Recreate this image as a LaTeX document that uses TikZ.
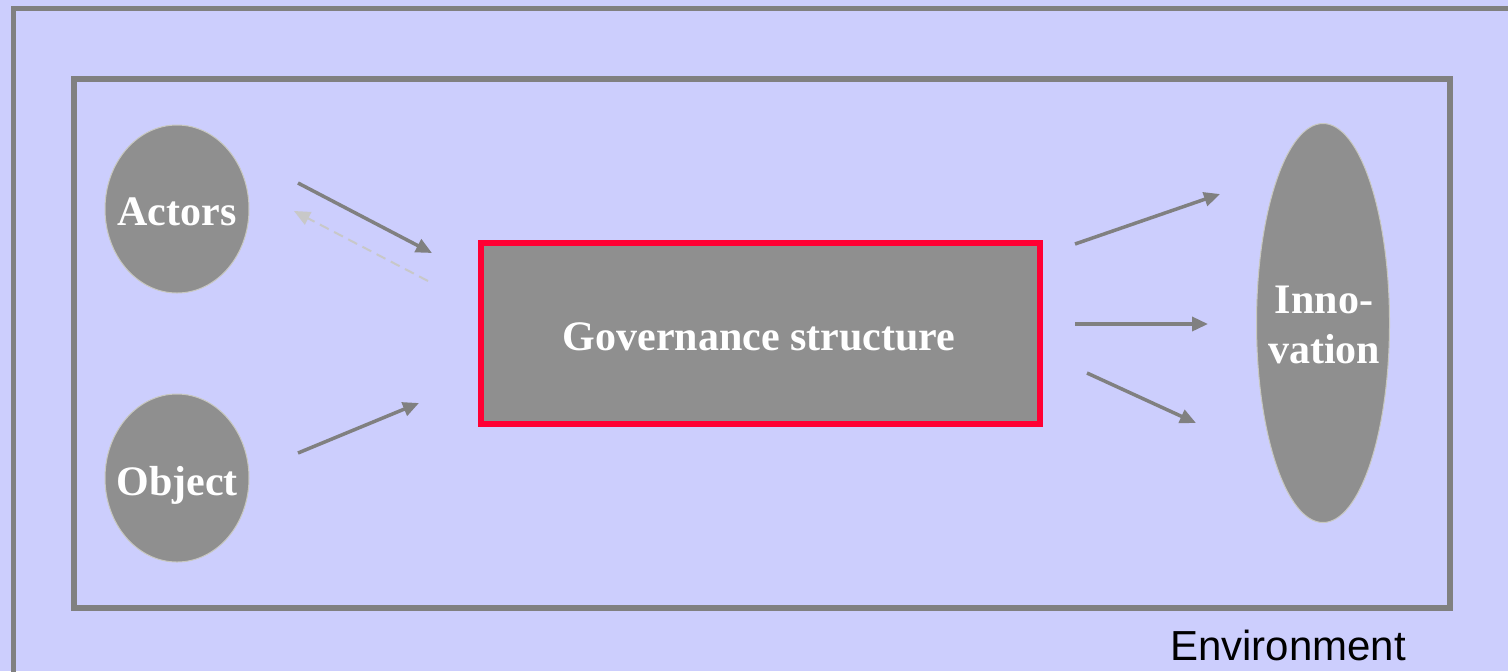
\documentclass[tikz,border=0pt]{standalone}
\usepackage{fontspec}
\setmainfont{Liberation Serif}
\newfontfamily\envfont{Liberation Sans}
\usetikzlibrary{arrows.meta,shapes.geometric}
\definecolor{bgblue}{RGB}{204,206,253}
\definecolor{framegray}{RGB}{128,128,128}
\definecolor{blobgray}{RGB}{143,143,143}
\definecolor{rimgray}{RGB}{200,200,192}
\definecolor{boxred}{RGB}{255,0,51}
\definecolor{dashgray}{RGB}{200,200,200}
\tikzset{
  frame/.style={draw=framegray, line width=2.75pt},
  blob/.style={ellipse, draw=rimgray, line width=0.5pt, fill=blobgray, inner sep=0pt},
  lbl/.style={font=\bfseries\fontsize{21}{25}\selectfont, text=white, align=center, anchor=base, inner sep=0pt},
  flow/.style={draw=framegray, line width=1.75pt, -{Triangle[length=8pt,width=7pt]}},
  back/.style={draw=dashgray, line width=1pt, dash pattern=on 5pt off 3pt, -{Triangle[length=8pt,width=7pt]}},
}
\begin{document}
\begin{tikzpicture}[x=0.5pt,y=0.5pt,yscale=-1,xscale=1]
    \useasboundingbox (0,0) rectangle (1508,671);
    \clip (0,0) rectangle (1508,671);
    \fill[bgblue] (0,0) rectangle (1508,671);
    
    %Shape: Rectangle [outer frame]
    \draw[frame] (13.5,8.5) rectangle (1540,700);
    %Shape: Rectangle [inner frame]
    \draw[frame] (74,79) rectangle (1450,608);
    
    %Shape: Ellipse [actors]
    \node[blob, minimum width=72pt, minimum height=84pt] (actors) at (177,209) {};
    \node[lbl] (actorstxt) at (177,225) {Actors};
    %Shape: Ellipse [object]
    \node[blob, minimum width=72pt, minimum height=84pt] (object) at (177,478) {};
    \node[lbl] (objecttxt) at (177,495) {Object};
    %Shape: Ellipse [innovation]
    \node[blob, minimum width=66.5pt, minimum height=199.5pt] (innov) at (1323,323) {};
    \node[lbl] (innovtxt) at (1324,363) {Inno-\\vation};
    
    %Shape: Rectangle [governance]
    \node[draw=boxred, line width=3pt, fill=blobgray, minimum width=279.5pt, minimum height=90.5pt, inner sep=0pt] (gov) at (760.5,333.5) {};
    \node[lbl] (govtxt) at (759,350) {Governance structure};
    
    %Text [environment]
    \node[font=\envfont\fontsize{21}{25}\selectfont, anchor=base, inner sep=0pt] (envtxt) at (1288,660) {Environment};
    
    %Straight Lines [left side]
    \coordinate (actorsout) at (298,183);
    \coordinate (govinA) at (432,253);
    \coordinate (govback) at (428,281);
    \coordinate (actorsin) at (294,211);
    \coordinate (objectout) at (298,453);
    \coordinate (govinO) at (419,403);
    \draw[flow] (actorsout) -- (govinA);
    \draw[back] (govback) -- (actorsin);
    \draw[flow] (objectout) -- (govinO);
    
    %Straight Lines [right side]
    \coordinate (govoutA) at (1075,244);
    \coordinate (innovinA) at (1220,194);
    \coordinate (govoutB) at (1075,324);
    \coordinate (innovinB) at (1208,324);
    \coordinate (govoutC) at (1087,373);
    \coordinate (innovinC) at (1196,423);
    \draw[flow] (govoutA) -- (innovinA);
    \draw[flow] (govoutB) -- (innovinB);
    \draw[flow] (govoutC) -- (innovinC);
    \end{tikzpicture}
\end{document}
